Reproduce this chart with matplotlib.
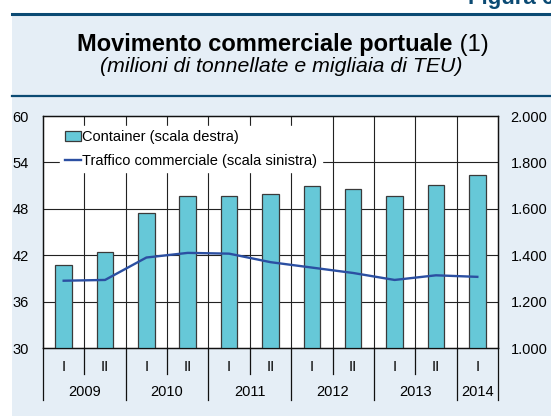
import matplotlib
matplotlib.use("Agg")
import matplotlib.pyplot as plt
from matplotlib.patches import Rectangle
from matplotlib.lines import Line2D
from matplotlib.ticker import FuncFormatter
import matplotlib.transforms as mtransforms

plt.rcParams["font.family"] = ["Liberation Sans", "DejaVu Sans"]

# ---- data ----
halves = ["I", "II", "I", "II", "I", "II", "I", "II", "I", "II", "I"]
years = ["2009", "2010", "2011", "2012", "2013", "2014"]
year_centers = [0.5, 2.5, 4.5, 6.5, 8.5, 10.0]
container = [1356, 1414, 1580, 1655, 1656, 1662, 1697, 1687, 1654, 1704, 1744]
traffico = [38.7, 38.8, 41.7, 42.3, 42.2, 41.1, 40.4, 39.7, 38.8, 39.4, 39.2]
left_ticks = [30, 36, 42, 48, 54, 60]
right_ticks = [1000, 1200, 1400, 1600, 1800, 2000]

W, H = 551, 416
PANEL = "#e5eef6"
DARK = "#0b4a73"
BAR = "#66c8d8"
LINE = "#2b4fa2"
FS = 10.5

fig = plt.figure(figsize=(W / 100, H / 100), dpi=100)
fig.patch.set_facecolor("white")

# panel background and rules (behind the axes)
fig.patches.append(Rectangle((12 / W, 0), 1 - 12 / W, 1 - 14 / H,
                             transform=fig.transFigure, facecolor=PANEL,
                             edgecolor="none", zorder=-5))
fig.lines.append(Line2D([12 / W, 1], [1 - 13.5 / H] * 2, transform=fig.transFigure,
                        color=DARK, lw=2.2, zorder=-4))
fig.lines.append(Line2D([12 / W, 1], [1 - 96 / H] * 2, transform=fig.transFigure,
                        color=DARK, lw=1.6, zorder=-4))
fig.text(468 / W, 1 - 4 / H, "Figura 6", fontsize=16, fontweight="bold",
         color=DARK, ha="left", va="baseline")

# title: bold part + normal "(1)"
t1 = fig.text(0, 1 - 51 / H, "Movimento commerciale portuale", fontsize=17,
              fontweight="bold", ha="left", va="baseline")
t2 = fig.text(0, 1 - 51 / H, " (1)", fontsize=17, ha="left", va="baseline")
fig.canvas.draw()
r = fig.canvas.get_renderer()
w1 = t1.get_window_extent(r).width
w2 = t2.get_window_extent(r).width
x0 = 283 - (w1 + w2) / 2
t1.set_x(x0 / W)
t2.set_x((x0 + w1) / W)
fig.text(281 / W, 1 - 72 / H, "(milioni di tonnellate e migliaia di TEU)",
         fontsize=15.3, style="italic", ha="center", va="baseline")

# ---- axes ----
ax = fig.add_axes([43 / W, (H - 348) / H, (498 - 43) / W, (348 - 116) / H])
ax2 = ax.twinx()
ax.set_zorder(ax2.get_zorder() + 1)
ax.patch.set_visible(False)
ax2.patch.set_visible(True)
ax2.patch.set_facecolor("white")

x = list(range(len(halves)))

# grid on the back axes so bars sit on top of it
for v in right_ticks[1:-1]:
    ax2.axhline(v, color="#222222", lw=0.8, zorder=1)
for b in [i + 0.5 for i in range(10)]:
    ax2.axvline(b, color="#222222", lw=0.8, zorder=1)

ax2.bar(x, container, width=0.4, color=BAR, edgecolor="#3a3a3a", linewidth=0.9,
        zorder=3, label="Container (scala destra)")
ax2.set_ylim(1000, 2000)
ax2.set_yticks(right_ticks)
ax2.yaxis.set_major_formatter(FuncFormatter(lambda v, p: f"{int(v):,}".replace(",", ".")))

ax.plot(x, traffico, color=LINE, lw=1.7, zorder=4,
        label="Traffico commerciale (scala sinistra)")
ax.set_ylim(30, 60)
ax.set_xlim(-0.5, 10.5)
ax.set_yticks(left_ticks)

for a in (ax, ax2):
    a.tick_params(length=0, labelsize=FS)
    a.set_xticks([])
    for s in a.spines.values():
        s.set_color("#111111")
        s.set_linewidth(0.9)
ax.tick_params(axis="y", pad=10)
ax2.tick_params(axis="y", pad=9)

h1, l1 = ax2.get_legend_handles_labels()
h2, l2 = ax.get_legend_handles_labels()
leg = ax.legend(h1 + h2, l1 + l2, loc="upper left", bbox_to_anchor=(0.038, 0.957),
                frameon=True, fancybox=False, facecolor="white", edgecolor="white",
                framealpha=1, fontsize=FS, handlelength=1.1, handletextpad=0.1,
                borderpad=0.3, labelspacing=0.65, borderaxespad=0)
leg.set_zorder(10)

# ---- custom category axis ----
trans = mtransforms.blended_transform_factory(ax.transData, fig.transFigure)
y_axis = (H - 348) / H
y_half_end = (H - 374) / H
y_year_end = (H - 400) / H
for i, lab in enumerate(halves):
    ax.text(i, (H - 367) / H, lab, transform=trans, ha="center", va="center",
            fontsize=FS, clip_on=False)
for b in [0.5, 2.5, 4.5, 6.5, 8.5]:
    ax.add_line(Line2D([b, b], [y_axis, y_half_end], transform=trans,
                       color="#111111", lw=0.9, clip_on=False))
for b in [-0.5, 1.5, 3.5, 5.5, 7.5, 9.5, 10.5]:
    ax.add_line(Line2D([b, b], [y_axis, y_year_end], transform=trans,
                       color="#111111", lw=0.9, clip_on=False))
for c, lab in zip(year_centers, years):
    ax.text(c, (H - 392) / H, lab, transform=trans, ha="center", va="center",
            fontsize=FS, clip_on=False)

fig.savefig("out.png", dpi=100, facecolor=fig.get_facecolor())
